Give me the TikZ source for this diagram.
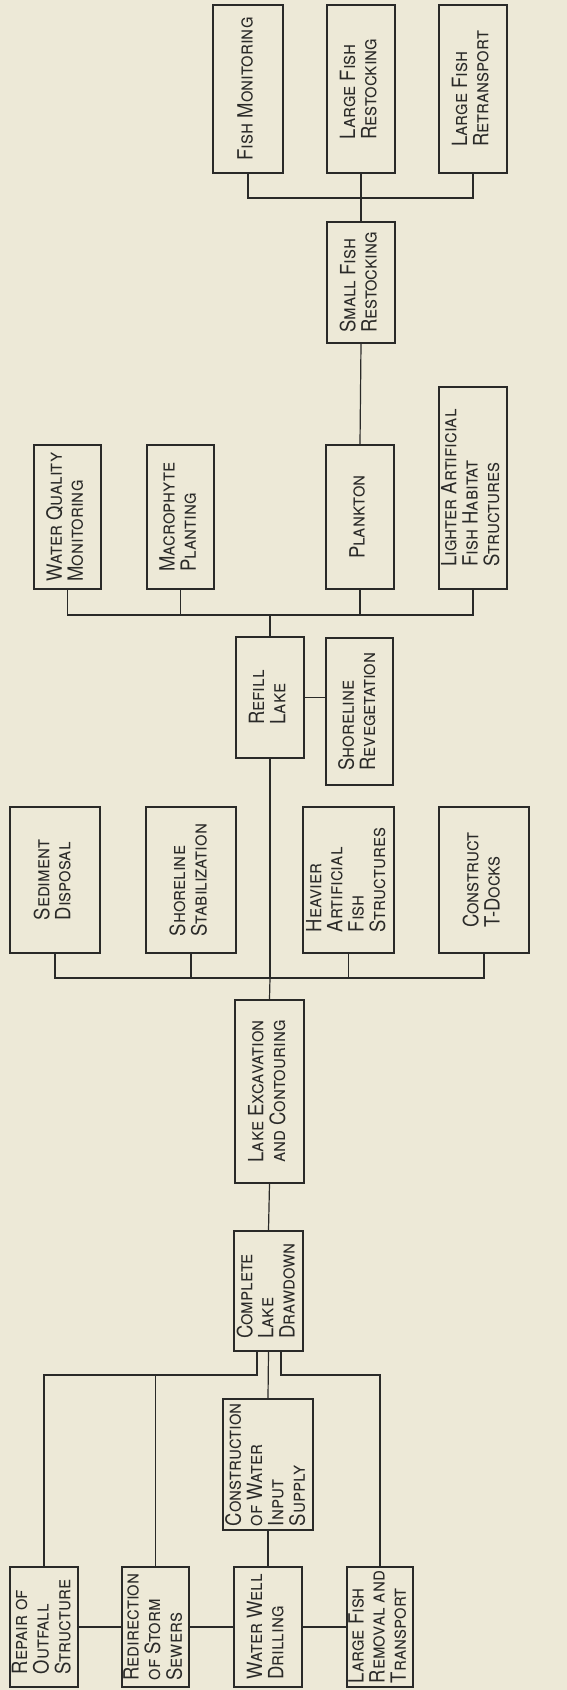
\documentclass[tikz,border=0pt]{standalone}
\usepackage{fontspec}
\setmainfont{TeX Gyre Heros}[FakeStretch=0.88]
\usetikzlibrary{positioning}

\definecolor{paper}{RGB}{237,233,215}
\definecolor{ink}{RGB}{42,42,40}

% rotated, left aligned box text
\newcommand{\vtxt}[1]{\rotatebox{90}{\begin{tabular}{@{}l@{}}#1\end{tabular}}}

\begin{document}
\begin{tikzpicture}[x=1pt, y=-1pt,
    stage/.style={draw=ink, line width=1.8pt, fill=paper, inner sep=0pt, text=ink,
      font=\fontsize{21}{19.5}\selectfont\scshape},
    dims/.style 2 args={minimum width=#1pt, minimum height=#2pt},
    link/.style={draw=ink, line width=1.2pt}]
  \fill[paper] (0,0) rectangle (567,1690);
  \useasboundingbox (0,0) rectangle (567,1690);

  % fish stocking
  \node[stage, dims={70}{168}] (fishmon) at (248,89) {\vtxt{Fish Monitoring}};
  \node[stage, dims={68}{168}] (lgrestock) at (361,89) {\vtxt{Large Fish\\Restocking}};
  \node[stage, dims={68}{168}] (lgretrans) at (473,89) {\vtxt{Large Fish\\Retransport}};
  \node[stage, dims={68}{121}] (smallfish) at (361,282.5) {\vtxt{Small Fish\\Restocking}};

  % after refill
  \node[stage, dims={67}{144}] (wqmon) at (67.5,517) {\vtxt{Water Quality\\Monitoring}};
  \node[stage, dims={67}{144}] (macro) at (180.5,517) {\vtxt{Macrophyte\\Planting}};
  \node[stage, dims={68}{144}] (plankton) at (360,517) {\vtxt{Plankton}};
  \node[stage, dims={68}{202}] (lighter) at (473,488) {\vtxt{Lighter Artificial\\Fish Habitat\\Structures}};
  \node[stage, dims={68}{121}] (refill) at (270,697.5) {\vtxt{Refill\\Lake}};
  \node[stage, dims={67}{147}] (shorereveg) at (359.5,711.5) {\vtxt{Shoreline\\Revegetation}};

  % in the dry lake bed
  \node[stage, dims={90}{146}] (sediment) at (55,880) {\vtxt{Sediment\\Disposal}};
  \node[stage, dims={90}{146}] (shorestab) at (191,880) {\vtxt{Shoreline\\Stabilization}};
  \node[stage, dims={91}{146}] (heavier) at (348.5,880) {\vtxt{Heavier\\Artificial\\Fish\\Structures}};
  \node[stage, dims={90}{146}] (tdocks) at (484,880) {\vtxt{Construct\\T-Docks}};
  \node[stage, dims={69}{183}] (lakeexc) at (269.5,1091.5) {\vtxt{Lake Excavation\\and Contouring}};
  \node[stage, dims={69}{120}] (drawdown) at (268.5,1291) {\vtxt{Complete\\Lake\\Drawdown}};

  % preparation
  \node[stage, dims={90}{131}] (construct) at (268,1464.5) {\vtxt{Construction\\of Water\\Input\\Supply}};
  \node[stage, dims={68}{120}] (repair) at (44,1627) {\vtxt{Repair of\\Outfall\\Structure}};
  \node[stage, dims={67}{120}] (redirect) at (155.5,1627) {\vtxt{Redirection\\of Storm\\Sewers}};
  \node[stage, dims={68}{120}] (waterwell) at (268,1627) {\vtxt{Water Well\\Drilling}};
  \node[stage, dims={66}{120}] (lgremove) at (380,1627) {\vtxt{Large Fish\\Removal and\\Transport}};

  \coordinate (b1) at (361,198);
  \coordinate (b2) at (270,615);
  \coordinate (b3) at (270,978);
  \coordinate (dl) at (257,1375);
  \coordinate (dr) at (281,1375);

  \draw[link] (fishmon.south) |- (b1) -| (lgretrans.south);
  \draw[link] (lgrestock.south) -- (smallfish.north);
  \draw[link] (smallfish.south) -- (plankton.north);

  \draw[link] (wqmon.south) |- (b2) -| (lighter.south);
  \draw[link] (macro.south) -- (macro.south |- b2);
  \draw[link] (plankton.south) -- (plankton.south |- b2);
  \draw[link] (b2) -- (refill.north);
  \draw[link] (refill.east) -- (refill.east -| shorereveg.west);
  \draw[link] (refill.south) -- (b3);

  \draw[link] (sediment.south) |- (b3) -| (tdocks.south);
  \draw[link] (shorestab.south) -- (shorestab.south |- b3);
  \draw[link] (heavier.south) -- (heavier.south |- b3);
  \draw[link] (b3) -- (lakeexc.north);
  \draw[link] (lakeexc.south) -- (drawdown.north);

  \draw[link] (drawdown.south -| dl) -- (dl) -| (repair.north);
  \draw[link] (redirect.north) -- (redirect.north |- dl);
  \draw[link] (drawdown.south -| dr) -- (dr) -| (lgremove.north);
  \draw[link] (drawdown.south) -- (construct.north);
  \draw[link] (construct.south) -- (waterwell.north);
  \draw[link] (repair.east) -- (redirect.west);
  \draw[link] (redirect.east) -- (waterwell.west);
  \draw[link] (waterwell.east) -- (lgremove.west);
\end{tikzpicture}
\end{document}
